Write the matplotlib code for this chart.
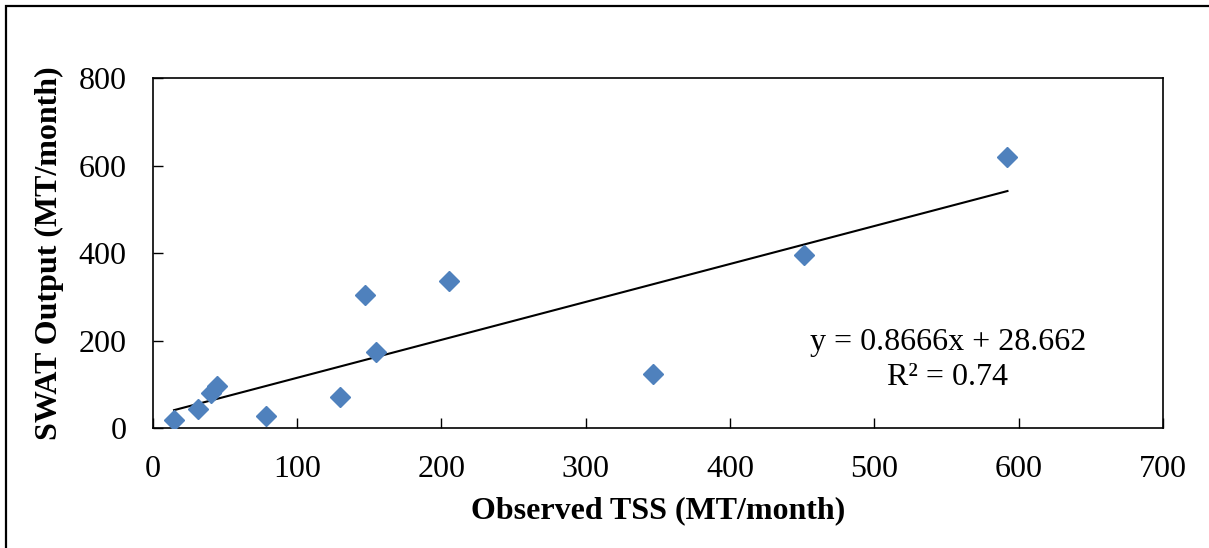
import matplotlib.pyplot as plt
from matplotlib.patches import Rectangle
import numpy as np

# observed vs simulated sediment (MT/month)
observed_tss = [14.8, 31.2, 40.2, 44.7, 78.3, 130, 147, 154.7, 205.4, 346.7, 451.3, 592.2]
swat_output = [19, 44, 80, 96.6, 28, 71, 304, 175, 337, 123, 395, 620]

slope = 0.8666
intercept = 28.662
r2 = 0.74

plt.rcParams['font.family'] = ['Liberation Serif', 'DejaVu Serif']
FS = 23

fig = plt.figure(figsize=(12.09, 5.48), dpi=100)
ax = fig.add_axes([0.1263, 0.2184, 0.8357, 0.6393])

ax.plot(observed_tss, swat_output, linestyle='none', marker='D', ms=10.5,
        color='#4F81BD', mec='#4F81BD', zorder=3)

xs = np.array([min(observed_tss), max(observed_tss)])
ax.plot(xs, slope * xs + intercept, color='black', lw=1.5, zorder=2)

ax.set_xlim(0, 700)
ax.set_ylim(0, 800)
ax.set_xticks(range(0, 701, 100))
ax.set_yticks(range(0, 801, 200))
ax.tick_params(direction='in', length=7, width=1, labelsize=FS, pad=19)
for s in ax.spines.values():
    s.set_linewidth(1.2)

ax.set_xlabel('Observed TSS (MT/month)', fontsize=FS, fontweight='bold', labelpad=9)
ax.set_ylabel('SWAT Output (MT/month)', fontsize=FS, fontweight='bold', labelpad=10)

ax.text(551, 197, 'y = 0.8666x + 28.662', fontsize=FS, ha='center', va='center')
ax.text(551, 117, 'R² = %.2f' % r2, fontsize=FS, ha='center', va='center')

# outer chart frame (right/bottom edges fall outside the image)
fig.patches.append(Rectangle((6 / 1209, -0.1), 1.2, 1 - 6 / 548 + 0.1,
                             transform=fig.transFigure, fill=False,
                             edgecolor='black', lw=1.6))

fig.savefig('out.png', dpi=100)
